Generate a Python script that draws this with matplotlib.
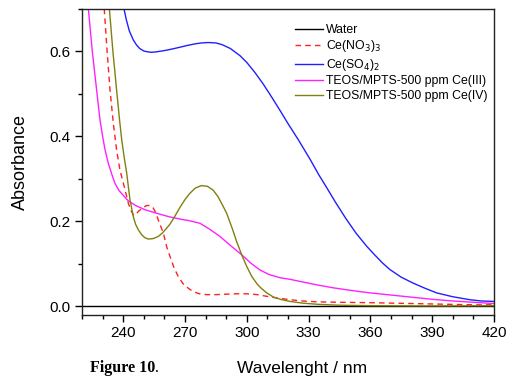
import matplotlib
matplotlib.use("Agg")
import matplotlib.pyplot as plt
from matplotlib.ticker import MultipleLocator, FormatStrFormatter

plt.rcParams['font.family'] = ['Liberation Sans', 'DejaVu Sans']

# ---- data ----
water_x = [220, 260, 300, 340, 380, 420]
water_y = [0, 0, 0, 0, 0, 0]

nitrate_x = [229.5, 230.8, 232.2, 233.6, 235.2, 236.8, 238.4, 240.9, 242.5, 243.7, 244.9, 246, 247.3,
             249.3, 251.4, 253, 254.6, 256, 257, 258.2, 259.5, 261.1, 262.7, 264.7, 266.7, 269, 271.6,
             274, 277, 280.5, 285, 290, 295, 300, 305, 309.7, 315, 321, 327, 334, 345, 360, 370, 380,
             390, 400, 410, 420]
nitrate_y = [0.79, 0.70, 0.60, 0.509, 0.431, 0.368, 0.321, 0.274, 0.242, 0.226, 0.215, 0.214, 0.223,
             0.231, 0.237, 0.237, 0.231, 0.218, 0.203, 0.188, 0.172, 0.140, 0.117, 0.090, 0.070, 0.053,
             0.042, 0.034, 0.029, 0.027, 0.027, 0.028, 0.029, 0.029, 0.027, 0.023, 0.019, 0.015, 0.012,
             0.010, 0.009, 0.008, 0.007, 0.006, 0.005, 0.004, 0.003, 0.003]

sulfate_x = [238, 239.3, 240.4, 241.5, 243, 244.9, 246.5, 248, 250, 252, 253.8, 256, 260, 264, 267.6,
             271, 275, 278, 281.3, 285, 288, 292, 296.7, 300, 304, 308, 312, 316, 320, 325, 330.7,
             335, 338.8, 343, 348, 353, 358.2, 362, 366, 369.5, 375, 380.8, 386, 392.2, 400, 408.3,
             414, 420]
sulfate_y = [0.78, 0.735, 0.70, 0.675, 0.648, 0.627, 0.615, 0.607, 0.601, 0.599, 0.598, 0.599, 0.602,
             0.606, 0.610, 0.614, 0.618, 0.620, 0.621, 0.620, 0.616, 0.607, 0.590, 0.574, 0.550, 0.523,
             0.493, 0.462, 0.430, 0.392, 0.346, 0.309, 0.279, 0.245, 0.207, 0.172, 0.141, 0.121, 0.101,
             0.086, 0.068, 0.054, 0.043, 0.031, 0.022, 0.015, 0.012, 0.011]

ce3_x = [221, 222, 223.1, 225, 227.1, 228.7, 230, 231.2, 232.8, 234.5, 236, 238, 240, 242.5, 246,
         250.6, 256, 261.9, 267.6, 272.4, 277.3, 282, 287, 292, 297.5, 302, 306.4, 311, 316, 321, 326,
         334, 342, 352, 360, 370, 380, 390, 400, 410, 420]
ce3_y = [0.85, 0.76, 0.70, 0.60, 0.509, 0.44, 0.40, 0.368, 0.336, 0.31, 0.289, 0.272, 0.261, 0.248,
         0.237, 0.227, 0.219, 0.211, 0.205, 0.201, 0.195, 0.181, 0.164, 0.143, 0.121, 0.101, 0.085,
         0.074, 0.067, 0.063, 0.058, 0.050, 0.043, 0.036, 0.031, 0.026, 0.021, 0.016, 0.012, 0.009,
         0.006]

ce4_x = [232, 233.3, 235, 236.8, 238.2, 239.3, 240.5, 241.7, 243.3, 244.9, 246, 247.3, 249, 250.5,
         252.2, 254.5, 257, 259, 261, 262.7, 265, 267.6, 270, 272.4, 275, 278, 281, 283.7, 286, 288,
         290.2, 293, 295, 297.5, 300, 302.4, 305, 307, 309.7, 313, 317, 321, 327, 335, 345, 360, 380,
         400, 420]
ce4_y = [0.78, 0.70, 0.60, 0.509, 0.44, 0.391, 0.35, 0.313, 0.25, 0.211, 0.193, 0.18, 0.168, 0.161,
         0.158, 0.159, 0.164, 0.172, 0.183, 0.193, 0.211, 0.233, 0.251, 0.266, 0.278, 0.284, 0.282,
         0.273, 0.258, 0.240, 0.219, 0.182, 0.153, 0.121, 0.093, 0.070, 0.052, 0.042, 0.031, 0.021,
         0.015, 0.011, 0.007, 0.004, 0.002, 0.001, 0.0005, 0.0005, 0.001]

labels = ["Water", "Ce(NO$_3$)$_3$", "Ce(SO$_4$)$_2$",
          "TEOS/MPTS-500 ppm Ce(III)", "TEOS/MPTS-500 ppm Ce(IV)"]
x_ticks = [240, 270, 300, 330, 360, 390, 420]

# ---- figure ----
fig = plt.figure(figsize=(5.2, 3.88), dpi=100)
ax = fig.add_axes([82/520, 1-315/388, (494-82)/520, (315-9)/388])

lw = 1.0
ax.plot(water_x, water_y, color='black', lw=lw, label=labels[0])
ax.plot(nitrate_x, nitrate_y, color='#ff2020', lw=lw, ls=(0, (4, 3)), label=labels[1])
ax.plot(sulfate_x, sulfate_y, color='#2020ff', lw=lw, label=labels[2])
ax.plot(ce3_x, ce3_y, color='#ff20ff', lw=lw, label=labels[3])
ax.plot(ce4_x, ce4_y, color='#808010', lw=lw, label=labels[4])

ax.set_xlim(220, 420)
ax.set_ylim(-0.021, 0.70)
ax.set_xticks(x_ticks)
ax.xaxis.set_minor_locator(MultipleLocator(10))
ax.yaxis.set_major_locator(MultipleLocator(0.2))
ax.yaxis.set_minor_locator(MultipleLocator(0.1))
ax.yaxis.set_major_formatter(FormatStrFormatter('%.1f'))
ax.tick_params(which='major', direction='out', length=5, width=1, labelsize=11, pad=3)
ax.tick_params(which='minor', direction='out', length=3, width=1)
for s in ax.spines.values():
    s.set_linewidth(1.0)
    s.set_color('#222222')

ax.set_xlabel("Wavelenght / nm", fontsize=12.5)
ax.xaxis.set_label_coords((302-82)/412, -(368-315)/306, transform=ax.transAxes)
ax.xaxis.label.set_va('center')
ax.set_ylabel("Absorbance", fontsize=13)
ax.yaxis.set_label_coords(-(82-20)/412, 0.5, transform=ax.transAxes)
ax.yaxis.label.set_va('center')

leg = ax.legend(loc='upper left', frameon=False, fontsize=8.8, handlelength=2.3,
                handletextpad=0.25, labelspacing=0.2,
                bbox_to_anchor=((295-82)/412, (315-24)/306),
                borderaxespad=0, borderpad=0)

fig.text(90/520, 1-372/388, "Figure 10", fontsize=11.5, fontweight='bold',
         family=['Liberation Serif', 'DejaVu Serif'], ha='left', va='baseline')
fig.text(90/520 + 0.125, 1-372/388, ".", fontsize=11.5,
         family=['Liberation Serif', 'DejaVu Serif'], ha='left', va='baseline')

fig.savefig("out.png", dpi=100)
